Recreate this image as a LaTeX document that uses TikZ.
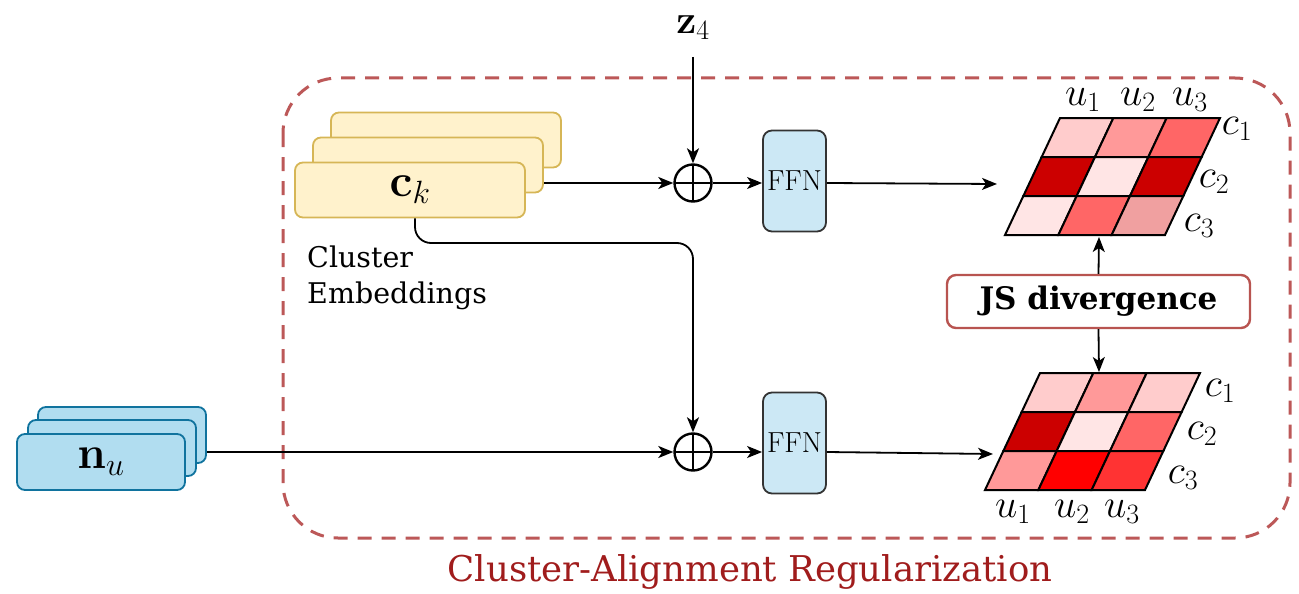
\RequirePackage{fix-cm}
\documentclass[tikz,border=0pt]{standalone}
\usepackage[no-math]{fontspec}
\setmainfont{DejaVu Serif}
\newfontfamily\lmr{Latin Modern Roman}
\usetikzlibrary{arrows.meta,calc}

\definecolor{framered}{RGB}{188,88,88}
\definecolor{titlered}{RGB}{160,28,28}
\definecolor{ckfill}{RGB}{255,242,204}
\definecolor{ckdraw}{RGB}{214,182,86}
\definecolor{nufill}{RGB}{177,221,240}
\definecolor{nudraw}{RGB}{16,115,158}
\definecolor{ffnfill}{RGB}{204,232,245}
\definecolor{jsdraw}{RGB}{184,84,80}
\definecolor{h0}{RGB}{255,229,229}
\definecolor{h1}{RGB}{255,204,204}
\definecolor{h2}{RGB}{255,153,153}
\definecolor{h3}{RGB}{255,102,102}
\definecolor{h4}{RGB}{204,0,0}
\definecolor{h5}{RGB}{240,160,160}
\definecolor{h6}{RGB}{255,0,0}
\definecolor{h7}{RGB}{255,51,51}

% one sheared cell of a heat map: x0, y0, column, row, fill colour
\newcommand\heatcell[5]{%
  \pgfmathsetmacro\hcx{#1+#3*53.33-#4*18.33}%
  \pgfmathsetmacro\hcy{#2+#4*39}%
  \filldraw[fill=#5, draw=black, line width=2pt, line join=miter]
    (\hcx,\hcy) -- ++(53.33,0) -- ++(-18.33,39) -- ++(-53.33,0) -- cycle;
}

\begin{document}
\begin{tikzpicture}[x=1pt, y=-1pt,
  conn/.style={draw, line width=1.8pt, -{Stealth[length=15pt,width=12pt,inset=4pt]}},
  ckbox/.style={draw=ckdraw, fill=ckfill, line width=1.8pt, rounded corners=8pt,
    minimum width=230pt, minimum height=55pt, inner sep=0pt},
  nubox/.style={draw=nudraw, fill=nufill, line width=1.8pt, rounded corners=8pt,
    minimum width=168pt, minimum height=56pt, inner sep=0pt},
  ffnbox/.style={draw=black!80, fill=ffnfill, line width=1.8pt, rounded corners=9pt,
    minimum width=63pt, minimum height=101pt, inner sep=0pt,
    font=\lmr\fontsize{29}{32}\selectfont},
  oplus/.style={circle, draw, line width=2.4pt, minimum size=37pt, inner sep=0pt,
    path picture={\draw[line width=2.4pt]
      (path picture bounding box.north) -- (path picture bounding box.south)
      (path picture bounding box.west) -- (path picture bounding box.east);}},
  jsbox/.style={draw=jsdraw, fill=white, line width=2.4pt, rounded corners=9pt,
    minimum width=303pt, minimum height=53pt, inner sep=0pt,
    font=\bfseries\fontsize{31}{34}\selectfont},
  mathlbl/.style={font=\fontsize{40}{42}\selectfont, inner sep=0pt},
  biglbl/.style={font=\fontsize{40}{42}\selectfont, inner sep=0pt},
]
\useasboundingbox (0,0) rectangle (1299,594);

% dashed frame of the regularization block
\draw[framered, line width=3pt, dash pattern=on 14pt off 10pt, rounded corners=55pt]
  (283,78) rectangle (1290,538);
\node[font=\fontsize{35.5}{40}\selectfont, text=titlered] (title) at (750,572)
  {Cluster-Alignment Regularization};

% cluster embeddings stack
\node[ckbox] (ckA) at (446,140) {};
\node[ckbox] (ckB) at (428,165) {};
\node[ckbox, font=\fontsize{46}{48}\selectfont] (ckC) at (410,190) {$\mathbf{c}_k$};
\node[anchor=north west, align=left, inner sep=0pt,
  font=\fontsize{28.5}{36}\selectfont] (cemb) at (307,246) {Cluster\\Embeddings};

% node embeddings stack
\node[nubox] (nuA) at (122,435) {};
\node[nubox] (nuB) at (112,448) {};
\node[nubox, font=\fontsize{46}{48}\selectfont] (nuC) at (101,462) {$\mathbf{n}_u$};

% fusion and feed-forward blocks
\node[biglbl] (z4) at (693,28) {$\mathbf{z}_4$};
\coordinate (z4start) at (693,57);
\node[oplus] (plusA) at (693,183) {};
\node[oplus] (plusB) at (693,452) {};
\node[ffnbox] (ffnA) at (794.5,181) {FFN};
\node[ffnbox] (ffnB) at (794.5,443) {FFN};
\node[jsbox] (js) at (1098.5,301.5) {JS divergence};

% heat maps
\foreach \c/\r/\col in {0/0/h1,1/0/h2,2/0/h3,0/1/h4,1/1/h0,2/1/h4,0/2/h0,1/2/h3,2/2/h5}
  {\heatcell{1060}{118}{\c}{\r}{\col}}
\foreach \c/\r/\col in {0/0/h1,1/0/h2,2/0/h1,0/1/h4,1/1/h0,2/1/h3,0/2/h2,1/2/h6,2/2/h7}
  {\heatcell{1040}{373}{\c}{\r}{\col}}

\node[mathlbl] (ua1) at (1083,100) {$u_1$};
\node[mathlbl] (ua2) at (1138,100) {$u_2$};
\node[mathlbl] (ua3) at (1190,100) {$u_3$};
\node[mathlbl] (ca1) at (1237,129) {$c_1$};
\node[mathlbl] (ca2) at (1214,182) {$c_2$};
\node[mathlbl] (ca3) at (1199,226) {$c_3$};
\node[mathlbl] (ub1) at (1013,512) {$u_1$};
\node[mathlbl] (ub2) at (1072,512) {$u_2$};
\node[mathlbl] (ub3) at (1122,512) {$u_3$};
\node[mathlbl] (cb1) at (1220,391) {$c_1$};
\node[mathlbl] (cb2) at (1202,434) {$c_2$};
\node[mathlbl] (cb3) at (1183,478) {$c_3$};

\coordinate (gridAin) at (997,184);
\coordinate (gridBin) at (993,454);
\coordinate (gridAbot) at (1099,237);
\coordinate (gridBtop) at (1099,372);
\coordinate (bend) at (600,243);

% connectors
\draw[conn] (ckB.east |- plusA) -- (plusA);
\draw[conn] (z4start) -- (plusA);
\draw[conn] (plusA) -- (plusA -| ffnA.west);
\draw[conn] (ffnA.east |- plusA) -- (gridAin);
\draw[conn, rounded corners=16pt] ([xshift=5pt]ckC.south) |- (bend) -| (plusB.north);
\draw[conn] (nuA.east |- plusB) -- (plusB);
\draw[conn] (plusB) -- (plusB -| ffnB.west);
\draw[conn] (ffnB.east |- plusB) -- (gridBin);
\draw[conn] (js.north) -- (gridAbot);
\draw[conn] (js.south) -- (gridBtop);
\end{tikzpicture}
\end{document}
